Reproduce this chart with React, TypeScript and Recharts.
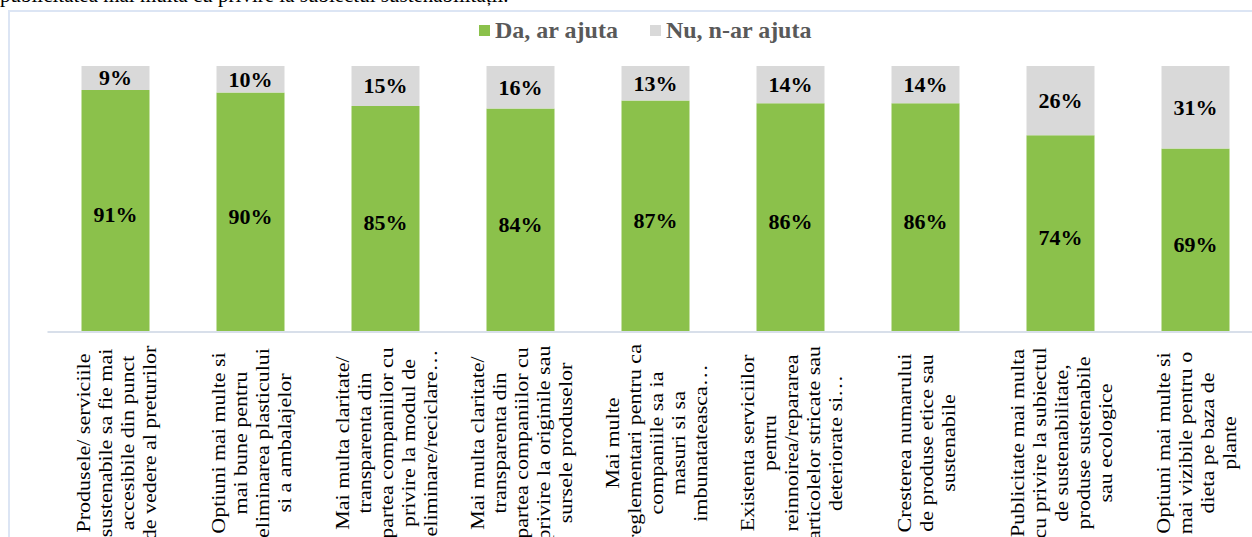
import { BarChart, Bar, XAxis, YAxis, LabelList } from 'recharts';

const categories = [
  'Produsele/ serviciile\nsustenabile sa fie mai\naccesibile din punct\nde vedere al preturilor',
  'Optiuni mai multe si\nmai bune pentru\neliminarea plasticului\nsi a ambalajelor',
  'Mai multa claritate/\ntransparenta din\npartea companiilor cu\nprivire la modul de\neliminare/reciclare…',
  'Mai multa claritate/\ntransparenta din\npartea companiilor cu\nprivire la originile sau\nsursele produselor',
  'Mai multe\nreglementari pentru ca\ncompaniile sa ia\nmasuri si sa\nimbunatateasca…',
  'Existenta serviciilor\npentru\nreinnoirea/repararea\narticolelor stricate sau\ndeteriorate si…',
  'Cresterea numarului\nde produse etice sau\nsustenabile',
  'Publicitate mai multa\ncu privire la subiectul\nde sustenabilitate,\nproduse sustenabile\nsau ecologice',
  'Optiuni mai multe si\nmai vizibile pentru o\ndieta pe baza de\nplante',
];
const daValues = [91, 90, 85, 84, 87, 86, 86, 74, 69];
const nuValues = [9, 10, 15, 16, 13, 14, 14, 26, 31];

const seriesNames = { da: 'Da, ar ajuta', nu: 'Nu, n-ar ajuta' };
const GREEN = '#8BC14B';
const GRAY = '#D9D9D9';
const SERIF = "'Times New Roman', 'Liberation Serif', Tinos, 'DejaVu Serif', serif";

const chartData = categories.map((c, i) => ({ cat: c, da: daValues[i], nu: nuValues[i] }));

const LABEL_CENTER_Y = 443;
const LINE_PITCH = 22;
const SQUASH = 0.85;

function CategoryTick(props: any) {
  const { x, payload } = props;
  const lines = String(payload.value).split('\n');
  const n = lines.length;
  return (
    <g>
      {lines.map((line, i) => {
        const dx = (i - (n - 1) / 2) * LINE_PITCH + 8;
        return (
          <text
            key={i}
            transform={`translate(${x + dx},${LABEL_CENTER_Y}) rotate(-90) scale(1,${SQUASH})`}
            textAnchor="middle"
            style={{ fontFamily: SERIF }}
            fontSize={22}
            fill="#000"
          >
            {line}
          </text>
        );
      })}
    </g>
  );
}

// value label centred in its segment, nudged down a little
const valueLabel = (shift: number) => (props: any) => {
  const { x, y, width, height, value } = props;
  return (
    <text
      x={x + width / 2}
      y={y + height / 2 + shift}
      textAnchor="middle"
      dominantBaseline="central"
      style={{ fontFamily: SERIF }}
      fontSize={22}
      fontWeight="bold"
      fill="#000"
    >
      {value}%
    </text>
  );
};

function LegendBox() {
  const item = (color: string, text: string) => (
    <div style={{ display: 'flex', alignItems: 'center', gap: 5 }}>
      <div style={{ width: 11, height: 11, background: color }} />
      <span style={{ fontFamily: SERIF, fontWeight: 'bold', fontSize: 24, color: '#595959' }}>{text}</span>
    </div>
  );
  return (
    <div style={{ position: 'absolute', left: 479, top: 16, display: 'flex', gap: 32, lineHeight: '28px' }}>
      {item(GREEN, seriesNames.da)}
      {item(GRAY, seriesNames.nu)}
    </div>
  );
}

export default function App() {
  return (
    <div style={{ position: 'fixed', left: 0, top: 0, width: 1252, height: 537, overflow: 'hidden', background: '#fff' }}>
      <div
        style={{
          position: 'absolute', left: 0, top: -15, fontFamily: SERIF, fontSize: 21, lineHeight: '21px',
          color: '#000', whiteSpace: 'nowrap',
        }}
      >
        publicitatea mai multa cu privire la subiectul sustenabilitații.
      </div>
      <div
        style={{
          position: 'absolute', left: 8, top: 10, width: 1320, height: 620,
          border: '2px solid #DCE5F4', boxSizing: 'border-box',
        }}
      />
      <LegendBox />
      <div style={{ position: 'absolute', left: 0, top: 0 }}>
        <BarChart
          width={1300}
          height={600}
          data={chartData}
          margin={{ top: 66, right: 37.5, left: 47.5, bottom: 0 }}
          barSize={68}
        >
          <XAxis
            dataKey="cat"
            height={268}
            interval={0}
            tickLine={false}
            axisLine={{ stroke: '#D8DFEA', strokeWidth: 2 }}
            tick={<CategoryTick />}
          />
          <YAxis hide domain={[0, 100]} />
          <Bar dataKey="da" stackId="a" fill={GREEN} isAnimationActive={false}>
            <LabelList dataKey="da" content={valueLabel(4)} />
          </Bar>
          <Bar dataKey="nu" stackId="a" fill={GRAY} isAnimationActive={false}>
            <LabelList dataKey="nu" content={valueLabel(0)} />
          </Bar>
        </BarChart>
      </div>
    </div>
  );
}
